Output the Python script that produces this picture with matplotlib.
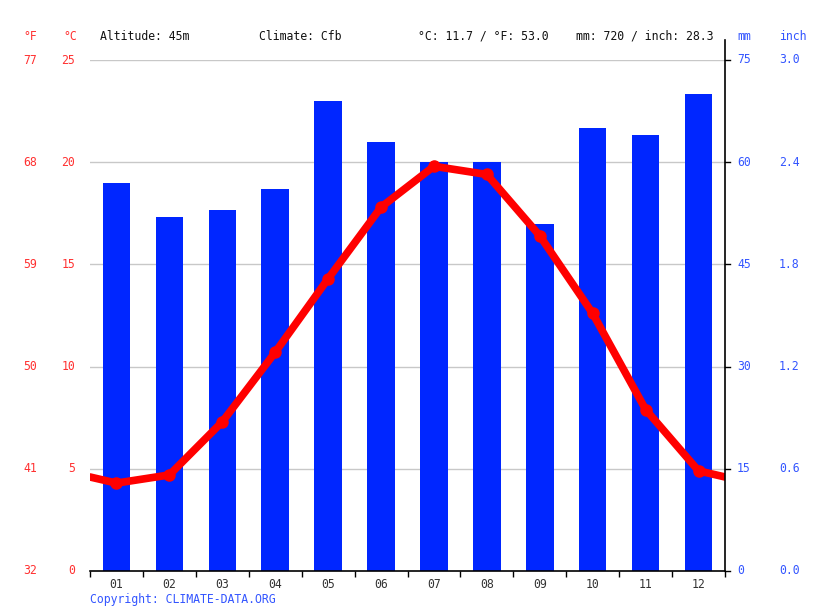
import matplotlib.pyplot as plt
import numpy as np
from matplotlib import transforms

months = ['01', '02', '03', '04', '05', '06', '07', '08', '09', '10', '11', '12']
temp_c = [4.3, 4.7, 7.3, 10.7, 14.3, 17.8, 19.8, 19.4, 16.4, 12.6, 7.9, 4.9]
precip_mm = [57, 52, 53, 56, 69, 63, 60, 60, 51, 65, 64, 70]

c_ticks = [0, 5, 10, 15, 20, 25]
f_labels = ['32', '41', '50', '59', '68', '77']
mm_ticks = [0, 15, 30, 45, 60, 75]
inch_labels = ['0.0', '0.6', '1.2', '1.8', '2.4', '3.0']

header = [('Altitude: 45m', 100), ('Climate: Cfb', 259),
          ('°C: 11.7 / °F: 53.0', 418), ('mm: 720 / inch: 28.3', 576)]

red = '#ff0000'
red_txt = '#ff3030'
blue = '#0026ff'
blue_txt = '#3355ff'
fnt = 'DejaVu Sans Mono'
fs = 8.3

W, H = 815, 611
fig = plt.figure(figsize=(W / 100, H / 100), dpi=100)
ax = fig.add_axes([90 / W, 40 / H, 635 / W, 511 / H])
ax2 = ax.twinx()

x = np.arange(1, 13)

# precipitation bars on the mm axis
ax2.bar(x, precip_mm, width=0.52, color=blue, zorder=2)
ax2.set_ylim(0, 75)

# temperature line, wrapped half a month past both ends
edge = (temp_c[0] + temp_c[-1]) / 2
xl = np.concatenate([[0.5], x, [12.5]])
yl = np.concatenate([[edge], temp_c, [edge]])
ax.set_ylim(0, 25)
ax.set_xlim(0.5, 12.5)
ax.set_zorder(ax2.get_zorder() + 1)
ax.patch.set_visible(False)
ax.plot(xl, yl, color=red, lw=5.5, solid_capstyle='round', zorder=5)
ax.plot(x, temp_c, 'o', color=red, ms=8, zorder=6)

# grid (drawn on the bar axis so it sits behind the bars)
for t in mm_ticks[1:]:
    ax2.axhline(t, color='#c8c8c8', lw=1, zorder=1)

for a in (ax, ax2):
    for s in ('left', 'right', 'top'):
        a.spines[s].set_visible(False)
    a.set_yticks([])
ax2.spines['bottom'].set_visible(False)
ax.spines['bottom'].set_linewidth(1.2)
ax.spines['bottom'].set_zorder(10)

ax.set_xticks(x)
ax.set_xticklabels(months, fontfamily=fnt, fontsize=fs, color='#333333')
ax.tick_params(axis='x', which='major', length=0, pad=5)
ax.set_xticks(np.arange(0.5, 13, 1), minor=True)
ax.tick_params(axis='x', which='minor', length=4, width=1, direction='out')

# right spine, extending up into the header
ax.plot([1, 1], [0, 1 + 20 / 511], transform=ax.transAxes, color='black',
        lw=1.2, clip_on=False, zorder=10)
for t in mm_ticks:
    ax2.plot([1, 1 + 5 / 635], [t, t], transform=ax2.get_yaxis_transform(),
             color='black', lw=1, clip_on=False)

# axis label columns
tr_c = transforms.blended_transform_factory(fig.transFigure, ax.transData)
for t, fl in zip(c_ticks, f_labels):
    ax.text(75 / W, t, str(t), transform=tr_c, ha='right', va='center',
            color=red_txt, fontfamily=fnt, fontsize=fs)
    ax.text(37 / W, t, fl, transform=tr_c, ha='right', va='center',
            color=red_txt, fontfamily=fnt, fontsize=fs)

tr_mm = transforms.blended_transform_factory(fig.transFigure, ax2.transData)
for t, il in zip(mm_ticks, inch_labels):
    ax2.text(737 / W, t, str(t), transform=tr_mm, ha='left', va='center',
             color=blue_txt, fontfamily=fnt, fontsize=fs)
    ax2.text(779 / W, t, il, transform=tr_mm, ha='left', va='center',
             color=blue_txt, fontfamily=fnt, fontsize=fs)

hy = 1 - 36 / H
fig.text(37 / W, hy, '°F', ha='right', va='center', color=red_txt,
         fontfamily=fnt, fontsize=fs)
fig.text(77 / W, hy, '°C', ha='right', va='center', color=red_txt,
         fontfamily=fnt, fontsize=fs)
fig.text(737 / W, hy, 'mm', ha='left', va='center', color=blue_txt,
         fontfamily=fnt, fontsize=fs)
fig.text(779 / W, hy, 'inch', ha='left', va='center', color=blue_txt,
         fontfamily=fnt, fontsize=fs)
for txt, xp in header:
    fig.text(xp / W, hy, txt, ha='left', va='center', color='#111111',
             fontfamily=fnt, fontsize=fs)

fig.text(90 / W, 1 - 599 / H, 'Copyright: CLIMATE-DATA.ORG', ha='left',
         va='center', color=blue_txt, fontfamily=fnt, fontsize=fs)

fig.savefig('out.png', dpi=100)
